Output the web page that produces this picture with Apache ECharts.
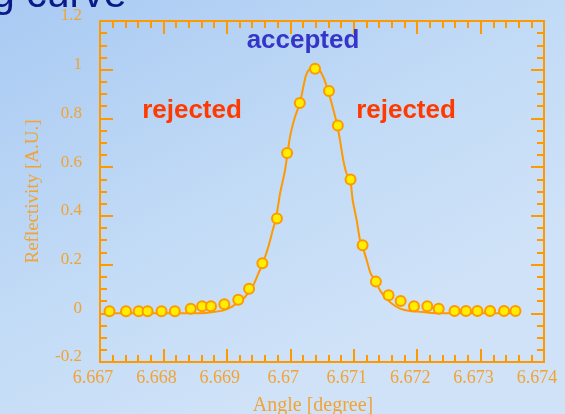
<!DOCTYPE html>
<html>
<head>
<meta charset="utf-8">
<script src="https://cdn.jsdelivr.net/npm/echarts@6/dist/echarts.min.js"></script>
<style>html,body{margin:0;padding:0;}#c{width:565px;height:414px;}</style>
</head>
<body>
<div id="c"></div>
<script>
// measured points
var measX = [6.66715, 6.66741, 6.66761, 6.66775, 6.66797, 6.66818, 6.66843, 6.66861, 6.66875, 6.66896, 6.66918, 6.66935, 6.66956, 6.66979, 6.66995, 6.67015, 6.67039, 6.67061, 6.67075, 6.67095, 6.67114, 6.67135, 6.67155, 6.67174, 6.67195, 6.67216, 6.67234, 6.67259, 6.67277, 6.67295, 6.67315, 6.67337, 6.67355];
var measY = [0.008, 0.008, 0.008, 0.008, 0.008, 0.008, 0.019, 0.029, 0.029, 0.037, 0.056, 0.101, 0.205, 0.389, 0.658, 0.863, 1.004, 0.913, 0.771, 0.549, 0.279, 0.130, 0.074, 0.050, 0.029, 0.029, 0.019, 0.009, 0.009, 0.009, 0.009, 0.009, 0.009];
// fitted curve
var fitX = [6.66706, 6.66858, 6.668786, 6.668944, 6.669076, 6.66918, 6.669286, 6.669417, 6.669496, 6.669565, 6.669653, 6.669723, 6.669775, 6.669838, 6.669917, 6.669995, 6.670074, 6.670153, 6.670205, 6.670248, 6.670311, 6.67039, 6.670468, 6.670531, 6.670599, 6.670653, 6.670741, 6.670784, 6.670836, 6.670889, 6.670946, 6.670984, 6.671047, 6.671099, 6.671135, 6.671205, 6.671268, 6.671347, 6.671414, 6.67152, 6.671599, 6.67173, 6.671887, 6.672092, 6.67236, 6.67362];
var fitY = [0, 0, 0.005, 0.012, 0.026, 0.046, 0.067, 0.115, 0.163, 0.204, 0.272, 0.341, 0.389, 0.491, 0.587, 0.724, 0.806, 0.863, 0.929, 0.977, 1.005, 1.009, 0.995, 0.963, 0.911, 0.861, 0.772, 0.710, 0.628, 0.573, 0.548, 0.464, 0.382, 0.300, 0.278, 0.218, 0.163, 0.131, 0.094, 0.060, 0.040, 0.019, 0.009, 0.005, 0, 0];
var xTickLabels = ['6.667', '6.668', '6.669', '6.67', '6.671', '6.672', '6.673', '6.674'];
var yTickLabels = ['-0.2', '0', '0.2', '0.4', '0.6', '0.8', '1', '1.2'];
var xMin = 6.667, xMax = 6.674, xStep = 0.001;
var yMin = -0.2, yMax = 1.2, yStep = 0.2;

var ORANGE = '#ff9900';
var LABEL = '#f2a332';
var SERIF = '"Liberation Serif", "Times New Roman", serif';

function zip(a, b) { var r = []; for (var i = 0; i < a.length; i++) r.push([a[i], b[i]]); return r; }

function baseAxis(extra) {
  var o = {
    type: 'value',
    axisLine: { show: true, onZero: false, lineStyle: { color: ORANGE, width: 2 } },
    axisTick: { show: true, inside: true, length: 13, lineStyle: { color: ORANGE, width: 2 } },
    minorTick: { show: true, length: 7, lineStyle: { color: ORANGE, width: 2 } },
    splitLine: { show: false },
    minorSplitLine: { show: false }
  };
  for (var k in extra) o[k] = extra[k];
  return o;
}

var chart = echarts.init(document.getElementById('c'));
chart.setOption({
  backgroundColor: {
    type: 'linear', x: 0, y: 0, x2: 0.4, y2: 1,
    colorStops: [{ offset: 0, color: '#a9caf3' }, { offset: 0.6, color: '#c2dbf6' }, { offset: 1, color: '#cfe2f8' }]
  },
  animation: false,
  grid: { left: 100, right: 21, top: 21, bottom: 52, containLabel: false, outerBoundsMode: 'none' },
  xAxis: [
    baseAxis({
      position: 'bottom', min: xMin, max: xMax, interval: xStep,
      minorTick: { show: true, splitNumber: 5, length: 7, lineStyle: { color: ORANGE, width: 2 } },
      axisLabel: {
        color: LABEL, fontFamily: SERIF, fontSize: 18, margin: 7, padding: [0, 14, 0, 0],
        formatter: function (v) { return xTickLabels[Math.round((v - xMin) / xStep)]; }
      },
      name: 'Angle [degree]', nameLocation: 'middle', nameGap: 34,
      nameTextStyle: { color: LABEL, fontFamily: SERIF, fontSize: 20, padding: [0, 18, 0, 0] }
    }),
    baseAxis({
      position: 'top', min: xMin, max: xMax, interval: xStep,
      minorTick: { show: true, splitNumber: 5, length: 7, lineStyle: { color: ORANGE, width: 2 } },
      axisLabel: { show: false }
    })
  ],
  yAxis: [
    baseAxis({
      position: 'left', min: yMin, max: yMax, interval: yStep,
      minorTick: { show: true, splitNumber: 4, length: 7, lineStyle: { color: ORANGE, width: 2 } },
      axisLabel: {
        color: LABEL, fontFamily: SERIF, fontSize: 17, margin: 18,
        verticalAlign: 'bottom', lineHeight: 10,
        formatter: function (v) { return yTickLabels[Math.round((v - yMin) / yStep)]; }
      },
      name: 'Reflectivity [A.U.]', nameLocation: 'middle', nameGap: 57,
      nameTextStyle: { color: LABEL, fontFamily: SERIF, fontSize: 19 }
    }),
    baseAxis({
      position: 'right', min: yMin, max: yMax, interval: yStep,
      minorTick: { show: true, splitNumber: 4, length: 7, lineStyle: { color: ORANGE, width: 2 } },
      axisLabel: { show: false }
    })
  ],
  series: [
    {
      type: 'line', xAxisIndex: 0, yAxisIndex: 0,
      data: zip(fitX, fitY), showSymbol: false, symbol: 'none', smooth: 0.2,
      lineStyle: { color: ORANGE, width: 2 }, z: 2
    },
    {
      type: 'scatter', xAxisIndex: 0, yAxisIndex: 0,
      data: zip(measX, measY), symbol: 'circle', symbolSize: 10,
      itemStyle: { color: '#ffee00', borderColor: ORANGE, borderWidth: 2, opacity: 1 }, z: 3
    }
  ],
  graphic: [
    { type: 'text', x: -8, y: -4, z: 10, style: { text: 'g curve', font: '41px "Liberation Sans", Arial, sans-serif', fill: '#0a1a88', textAlign: 'left', textVerticalAlign: 'middle' } },
    { type: 'text', x: 303, y: 41, z: 10, style: { text: 'accepted', font: 'bold 26px "Liberation Sans", Arial, sans-serif', fill: '#3535c8', textAlign: 'center', textVerticalAlign: 'middle' } },
    { type: 'text', x: 192, y: 111, z: 10, style: { text: 'rejected', font: 'bold 26px "Liberation Sans", Arial, sans-serif', fill: '#ff3a00', textAlign: 'center', textVerticalAlign: 'middle' } },
    { type: 'text', x: 406, y: 111, z: 10, style: { text: 'rejected', font: 'bold 26px "Liberation Sans", Arial, sans-serif', fill: '#ff3a00', textAlign: 'center', textVerticalAlign: 'middle' } }
  ]
});
</script>
</body>
</html>
